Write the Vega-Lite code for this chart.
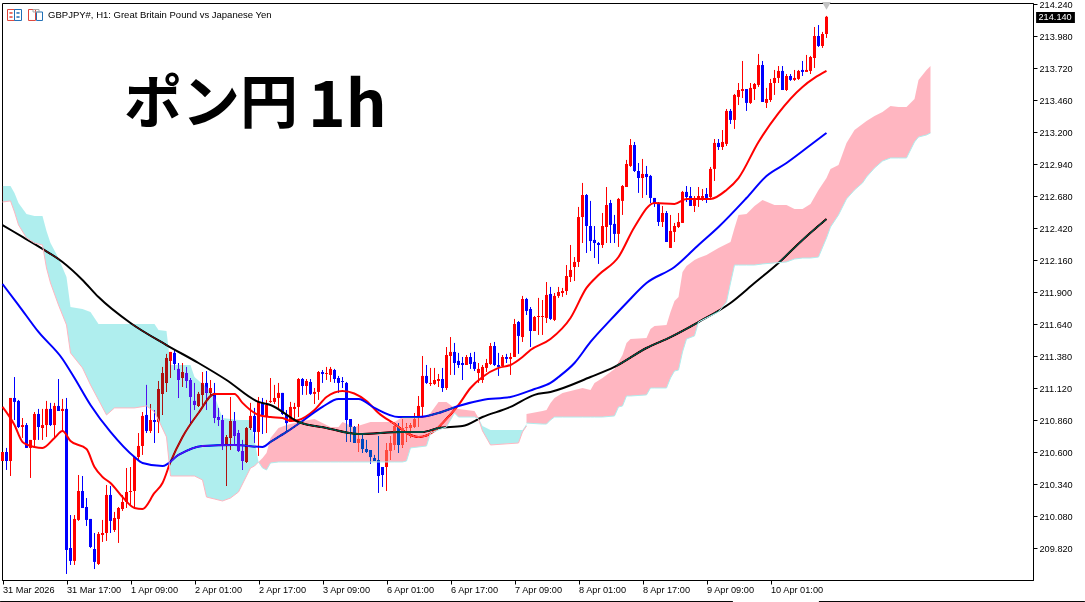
{
  "$schema": "https://vega.github.io/schema/vega-lite/v6.json",
  "width": 1031,
  "height": 577,
  "autosize": "none",
  "padding": {"left": 2, "top": 3, "right": 52, "bottom": 22},
  "background": "white",
  "datasets": {
    "candles": [
      {"i":0,"o":210.531,"h":210.604,"l":210.531,"c":210.604},{"i":1,"o":210.604,"h":210.637,"l":210.458,"c":210.531},{"i":2,"o":210.531,"h":211.043,"l":210.409,"c":211.043},{"i":3,"o":211.043,"h":211.213,"l":210.864,"c":211.011},
      {"i":4,"o":211.019,"h":211.027,"l":210.799,"c":210.807},{"i":5,"o":210.807,"h":210.880,"l":210.718,"c":210.823},{"i":6,"o":210.823,"h":210.839,"l":210.637,"c":210.637},{"i":7,"o":210.637,"h":210.702,"l":210.393,"c":210.702},
      {"i":8,"o":210.702,"h":210.929,"l":210.637,"c":210.913},{"i":9,"o":210.913,"h":210.954,"l":210.702,"c":210.807},{"i":10,"o":210.799,"h":210.954,"l":210.702,"c":210.823},{"i":11,"o":210.823,"h":211.019,"l":210.726,"c":210.954},
      {"i":12,"o":210.954,"h":211.003,"l":210.815,"c":210.823},{"i":13,"o":210.823,"h":211.003,"l":210.718,"c":210.978},{"i":14,"o":210.978,"h":211.197,"l":210.937,"c":210.937},{"i":15,"o":210.937,"h":211.035,"l":210.775,"c":210.954},
      {"i":16,"o":210.954,"h":211.043,"l":209.613,"c":209.808},{"i":17,"o":209.824,"h":210.092,"l":209.686,"c":209.719},{"i":18,"o":209.719,"h":210.092,"l":209.686,"c":210.060},{"i":19,"o":210.052,"h":210.417,"l":210.044,"c":210.287},
      {"i":20,"o":210.287,"h":210.409,"l":210.149,"c":210.149},{"i":21,"o":210.157,"h":210.230,"l":210.003,"c":210.052},{"i":22,"o":210.060,"h":210.060,"l":209.824,"c":209.832},{"i":23,"o":209.816,"h":209.946,"l":209.653,"c":209.711},
      {"i":24,"o":209.694,"h":209.954,"l":209.686,"c":209.938},{"i":25,"o":209.930,"h":210.052,"l":209.873,"c":209.946},{"i":26,"o":209.946,"h":210.336,"l":209.881,"c":210.255},{"i":27,"o":210.255,"h":210.328,"l":209.946,"c":210.044},
      {"i":28,"o":209.970,"h":210.117,"l":209.954,"c":210.068},{"i":29,"o":210.060,"h":210.157,"l":209.865,"c":210.149},{"i":30,"o":210.141,"h":210.255,"l":210.125,"c":210.198},{"i":31,"o":210.198,"h":210.474,"l":210.149,"c":210.279},
      {"i":32,"o":210.279,"h":210.482,"l":210.173,"c":210.287},{"i":33,"o":210.287,"h":210.563,"l":210.157,"c":210.563},{"i":34,"o":210.563,"h":210.758,"l":210.539,"c":210.653},{"i":35,"o":210.653,"h":210.929,"l":210.580,"c":210.897},
      {"i":36,"o":210.905,"h":211.149,"l":210.758,"c":210.775},{"i":37,"o":210.775,"h":210.994,"l":210.758,"c":210.864},{"i":38,"o":210.864,"h":210.945,"l":210.677,"c":210.848},{"i":39,"o":210.848,"h":211.181,"l":210.758,"c":211.116},
      {"i":40,"o":211.076,"h":211.295,"l":210.905,"c":211.246},{"i":41,"o":211.165,"h":211.401,"l":211.092,"c":211.368},{"i":42,"o":211.344,"h":211.417,"l":211.205,"c":211.417},{"i":43,"o":211.409,"h":211.433,"l":211.270,"c":211.319},
      {"i":44,"o":211.279,"h":211.327,"l":211.043,"c":211.189},{"i":45,"o":211.205,"h":211.327,"l":211.132,"c":211.254},{"i":46,"o":211.246,"h":211.295,"l":211.124,"c":211.181},{"i":47,"o":211.189,"h":211.205,"l":210.839,"c":211.051},
      {"i":48,"o":211.019,"h":211.165,"l":210.945,"c":210.986},{"i":49,"o":210.978,"h":211.092,"l":210.970,"c":211.076},{"i":50,"o":211.068,"h":211.254,"l":210.970,"c":211.165},{"i":51,"o":211.165,"h":211.262,"l":210.945,"c":211.084},
      {"i":52,"o":211.084,"h":211.189,"l":211.068,"c":211.124},{"i":53,"o":211.084,"h":211.165,"l":210.839,"c":210.880},{"i":54,"o":210.888,"h":210.962,"l":210.815,"c":210.864},{"i":55,"o":210.864,"h":210.905,"l":210.620,"c":210.661},
      {"i":56,"o":210.661,"h":210.742,"l":210.328,"c":210.726},{"i":57,"o":210.718,"h":211.051,"l":210.620,"c":210.856},{"i":58,"o":210.856,"h":210.929,"l":210.661,"c":210.734},{"i":59,"o":210.758,"h":210.783,"l":210.604,"c":210.612},
      {"i":60,"o":210.612,"h":210.702,"l":210.458,"c":210.531},{"i":61,"o":210.523,"h":210.807,"l":210.515,"c":210.799},{"i":62,"o":210.799,"h":211.003,"l":210.783,"c":210.897},{"i":63,"o":210.897,"h":210.962,"l":210.677,"c":210.767},
      {"i":64,"o":210.767,"h":211.051,"l":210.572,"c":211.011},{"i":65,"o":211.003,"h":211.043,"l":210.750,"c":210.905},{"i":66,"o":210.888,"h":211.027,"l":210.758,"c":210.986},{"i":67,"o":211.011,"h":211.205,"l":211.003,"c":211.019},
      {"i":68,"o":211.011,"h":211.149,"l":210.994,"c":211.043},{"i":69,"o":211.043,"h":211.165,"l":210.962,"c":211.084},{"i":70,"o":211.084,"h":211.084,"l":210.905,"c":210.913},{"i":71,"o":210.905,"h":210.945,"l":210.758,"c":210.839},
      {"i":72,"o":210.848,"h":211.011,"l":210.848,"c":210.970},{"i":73,"o":210.954,"h":211.003,"l":210.864,"c":210.970},{"i":74,"o":210.970,"h":211.205,"l":210.888,"c":211.197},{"i":75,"o":211.197,"h":211.205,"l":211.068,"c":211.140},
      {"i":76,"o":211.140,"h":211.197,"l":211.068,"c":211.181},{"i":77,"o":211.173,"h":211.197,"l":211.068,"c":211.076},{"i":78,"o":211.076,"h":211.124,"l":210.994,"c":211.092},{"i":79,"o":211.092,"h":211.262,"l":211.027,"c":211.254},
      {"i":80,"o":211.254,"h":211.270,"l":211.165,"c":211.238},{"i":81,"o":211.238,"h":211.295,"l":211.189,"c":211.246},{"i":82,"o":211.230,"h":211.295,"l":211.173,"c":211.279},{"i":83,"o":211.270,"h":211.279,"l":211.165,"c":211.197},
      {"i":84,"o":211.205,"h":211.222,"l":211.084,"c":211.165},{"i":85,"o":211.181,"h":211.213,"l":211.124,"c":211.173},{"i":86,"o":211.165,"h":211.173,"l":210.686,"c":210.864},{"i":87,"o":210.872,"h":210.872,"l":210.686,"c":210.807},
      {"i":88,"o":210.807,"h":210.815,"l":210.677,"c":210.677},{"i":89,"o":210.677,"h":210.832,"l":210.604,"c":210.710},{"i":90,"o":210.710,"h":210.742,"l":210.596,"c":210.628},{"i":91,"o":210.628,"h":210.702,"l":210.596,"c":210.604},
      {"i":92,"o":210.620,"h":210.620,"l":210.507,"c":210.563},{"i":93,"o":210.555,"h":210.580,"l":210.531,"c":210.531},{"i":94,"o":210.539,"h":210.734,"l":210.271,"c":210.409},{"i":95,"o":210.482,"h":210.482,"l":210.320,"c":210.417},
      {"i":96,"o":210.482,"h":210.677,"l":210.287,"c":210.620},{"i":97,"o":210.612,"h":210.734,"l":210.539,"c":210.677},{"i":98,"o":210.661,"h":210.848,"l":210.620,"c":210.815},{"i":99,"o":210.807,"h":210.839,"l":210.596,"c":210.661},
      {"i":100,"o":210.661,"h":210.872,"l":210.637,"c":210.799},{"i":101,"o":210.799,"h":210.839,"l":210.686,"c":210.807},{"i":102,"o":210.799,"h":210.839,"l":210.718,"c":210.823},{"i":103,"o":210.807,"h":210.921,"l":210.799,"c":210.872},
      {"i":104,"o":210.888,"h":211.059,"l":210.807,"c":210.978},{"i":105,"o":210.970,"h":211.384,"l":210.888,"c":211.222},{"i":106,"o":211.222,"h":211.311,"l":211.157,"c":211.165},{"i":107,"o":211.157,"h":211.287,"l":211.140,"c":211.165},
      {"i":108,"o":211.157,"h":211.287,"l":211.149,"c":211.189},{"i":109,"o":211.181,"h":211.238,"l":211.132,"c":211.197},{"i":110,"o":211.197,"h":211.287,"l":211.092,"c":211.124},{"i":111,"o":211.124,"h":211.457,"l":211.108,"c":211.392},
      {"i":112,"o":211.384,"h":211.538,"l":211.230,"c":211.417},{"i":113,"o":211.417,"h":211.490,"l":211.230,"c":211.327},{"i":114,"o":211.344,"h":211.409,"l":211.287,"c":211.311},{"i":115,"o":211.327,"h":211.376,"l":211.189,"c":211.311},
      {"i":116,"o":211.311,"h":211.392,"l":211.311,"c":211.376},{"i":117,"o":211.376,"h":211.409,"l":211.279,"c":211.319},{"i":118,"o":211.336,"h":211.417,"l":211.262,"c":211.279},{"i":119,"o":211.246,"h":211.327,"l":211.165,"c":211.279},
      {"i":120,"o":211.189,"h":211.311,"l":211.165,"c":211.295},{"i":121,"o":211.287,"h":211.360,"l":211.254,"c":211.327},{"i":122,"o":211.319,"h":211.490,"l":211.311,"c":211.465},{"i":123,"o":211.465,"h":211.498,"l":211.303,"c":211.311},
      {"i":124,"o":211.311,"h":211.409,"l":211.222,"c":211.295},{"i":125,"o":211.303,"h":211.392,"l":211.295,"c":211.376},{"i":126,"o":211.376,"h":211.401,"l":211.327,"c":211.360},{"i":127,"o":211.360,"h":211.409,"l":211.230,"c":211.376},
      {"i":128,"o":211.376,"h":211.685,"l":211.376,"c":211.644},{"i":129,"o":211.660,"h":211.668,"l":211.401,"c":211.547},{"i":130,"o":211.538,"h":211.872,"l":211.498,"c":211.847},{"i":131,"o":211.847,"h":211.856,"l":211.717,"c":211.750},
      {"i":132,"o":211.766,"h":211.782,"l":211.457,"c":211.587},{"i":133,"o":211.587,"h":211.709,"l":211.587,"c":211.701},{"i":134,"o":211.701,"h":211.856,"l":211.555,"c":211.709},{"i":135,"o":211.701,"h":211.839,"l":211.555,"c":211.709},
      {"i":136,"o":211.693,"h":211.985,"l":211.652,"c":211.880},{"i":137,"o":211.888,"h":211.945,"l":211.677,"c":211.685},{"i":138,"o":211.677,"h":211.896,"l":211.668,"c":211.872},{"i":139,"o":211.872,"h":211.945,"l":211.856,"c":211.904},
      {"i":140,"o":211.896,"h":211.937,"l":211.864,"c":211.912},{"i":141,"o":211.912,"h":212.123,"l":211.880,"c":212.034},{"i":142,"o":212.026,"h":212.286,"l":211.985,"c":212.083},{"i":143,"o":212.107,"h":212.188,"l":211.993,"c":212.148},
      {"i":144,"o":212.148,"h":212.595,"l":212.107,"c":212.513},{"i":145,"o":212.513,"h":212.790,"l":212.302,"c":212.692},{"i":146,"o":212.692,"h":212.700,"l":212.221,"c":212.440},{"i":147,"o":212.440,"h":212.644,"l":212.237,"c":212.318},
      {"i":148,"o":212.327,"h":212.440,"l":212.180,"c":212.302},{"i":149,"o":212.302,"h":212.310,"l":212.132,"c":212.286},{"i":150,"o":212.286,"h":212.546,"l":212.262,"c":212.440},{"i":151,"o":212.432,"h":212.757,"l":212.302,"c":212.611},
      {"i":152,"o":212.627,"h":212.652,"l":212.302,"c":212.449},{"i":153,"o":212.457,"h":212.530,"l":212.302,"c":212.376},{"i":154,"o":212.376,"h":212.668,"l":212.270,"c":212.660},{"i":155,"o":212.644,"h":212.773,"l":212.530,"c":212.765},
      {"i":156,"o":212.757,"h":212.977,"l":212.757,"c":212.944},{"i":157,"o":212.928,"h":213.147,"l":212.920,"c":213.098},{"i":158,"o":213.098,"h":213.123,"l":212.879,"c":212.887},{"i":159,"o":212.887,"h":212.952,"l":212.709,"c":212.830},
      {"i":160,"o":212.830,"h":212.985,"l":212.668,"c":212.863},{"i":161,"o":212.863,"h":212.928,"l":212.692,"c":212.838},{"i":162,"o":212.847,"h":212.855,"l":212.627,"c":212.668},{"i":163,"o":212.668,"h":212.668,"l":212.595,"c":212.627},
      {"i":164,"o":212.627,"h":212.635,"l":212.440,"c":212.473},{"i":165,"o":212.473,"h":212.603,"l":212.432,"c":212.546},{"i":166,"o":212.546,"h":212.562,"l":212.310,"c":212.310},{"i":167,"o":212.262,"h":212.530,"l":212.262,"c":212.400},
      {"i":168,"o":212.392,"h":212.465,"l":212.310,"c":212.440},{"i":169,"o":212.432,"h":212.546,"l":212.424,"c":212.473},{"i":170,"o":212.465,"h":212.725,"l":212.465,"c":212.717},{"i":171,"o":212.717,"h":212.765,"l":212.635,"c":212.676},
      {"i":172,"o":212.684,"h":212.757,"l":212.603,"c":212.603},{"i":173,"o":212.603,"h":212.684,"l":212.554,"c":212.668},{"i":174,"o":212.652,"h":212.757,"l":212.595,"c":212.684},{"i":175,"o":212.668,"h":212.741,"l":212.644,"c":212.684},
      {"i":176,"o":212.700,"h":212.749,"l":212.627,"c":212.668},{"i":177,"o":212.676,"h":212.920,"l":212.668,"c":212.904},{"i":178,"o":212.904,"h":213.147,"l":212.806,"c":213.115},{"i":179,"o":213.115,"h":213.147,"l":213.058,"c":213.082},
      {"i":180,"o":213.082,"h":213.220,"l":213.058,"c":213.123},{"i":181,"o":213.107,"h":213.391,"l":213.090,"c":213.375},{"i":182,"o":213.375,"h":213.391,"l":213.269,"c":213.302},{"i":183,"o":213.302,"h":213.513,"l":213.229,"c":213.505},
      {"i":184,"o":213.489,"h":213.602,"l":213.423,"c":213.545},{"i":185,"o":213.537,"h":213.781,"l":213.480,"c":213.553},{"i":186,"o":213.553,"h":213.553,"l":213.375,"c":213.440},{"i":187,"o":213.440,"h":213.602,"l":213.432,"c":213.562},
      {"i":188,"o":213.553,"h":213.602,"l":213.464,"c":213.594},{"i":189,"o":213.586,"h":213.838,"l":213.570,"c":213.748},{"i":190,"o":213.748,"h":213.781,"l":213.448,"c":213.448},{"i":191,"o":213.440,"h":213.562,"l":213.399,"c":213.472},
      {"i":192,"o":213.464,"h":213.635,"l":213.448,"c":213.602},{"i":193,"o":213.602,"h":213.708,"l":213.505,"c":213.643},{"i":194,"o":213.643,"h":213.740,"l":213.602,"c":213.700},{"i":195,"o":213.700,"h":213.740,"l":213.545,"c":213.545},
      {"i":196,"o":213.545,"h":213.675,"l":213.537,"c":213.659},{"i":197,"o":213.659,"h":213.675,"l":213.619,"c":213.627},{"i":198,"o":213.627,"h":213.708,"l":213.619,"c":213.643},{"i":199,"o":213.635,"h":213.708,"l":213.627,"c":213.700},
      {"i":200,"o":213.708,"h":213.781,"l":213.659,"c":213.692},{"i":201,"o":213.692,"h":213.830,"l":213.692,"c":213.708},{"i":202,"o":213.700,"h":213.822,"l":213.675,"c":213.813},{"i":203,"o":213.805,"h":214.057,"l":213.724,"c":213.984},
      {"i":204,"o":213.984,"h":214.073,"l":213.895,"c":213.903},{"i":205,"o":213.903,"h":214.017,"l":213.887,"c":214.000},{"i":206,"o":214.000,"h":214.147,"l":213.968,"c":214.140}
    ],
    "averages": [
      {"ma":"fast","i":0,"p":210.970},{"ma":"fast","i":3,"p":210.823},{"ma":"fast","i":5,"p":210.686},{"ma":"fast","i":8,"p":210.645},{"ma":"fast","i":10,"p":210.637},{"ma":"fast","i":13,"p":210.718},{"ma":"fast","i":15,"p":210.775},{"ma":"fast","i":17,"p":210.694},{"ma":"fast","i":21,"p":210.628},{"ma":"fast","i":23,"p":210.482},{"ma":"fast","i":25,"p":210.401},{"ma":"fast","i":27,"p":210.352},{"ma":"fast","i":30,"p":210.238},{"ma":"fast","i":33,"p":210.149},{"ma":"fast","i":35,"p":210.141},{"ma":"fast","i":38,"p":210.271},{"ma":"fast","i":40,"p":210.352},{"ma":"fast","i":42,"p":210.523},{"ma":"fast","i":45,"p":210.726},{"ma":"fast","i":49,"p":210.921},{"ma":"fast","i":53,"p":211.076},{"ma":"fast","i":58,"p":211.076},{"ma":"fast","i":60,"p":211.003},{"ma":"fast","i":64,"p":210.905},{"ma":"fast","i":67,"p":210.888},{"ma":"fast","i":70,"p":210.880},{"ma":"fast","i":72,"p":210.856},{"ma":"fast","i":74,"p":210.864},{"ma":"fast","i":78,"p":210.945},{"ma":"fast","i":81,"p":211.051},{"ma":"fast","i":85,"p":211.100},{"ma":"fast","i":91,"p":211.019},{"ma":"fast","i":94,"p":210.921},{"ma":"fast","i":98,"p":210.832},{"ma":"fast","i":102,"p":210.742},{"ma":"fast","i":104,"p":210.726},{"ma":"fast","i":108,"p":210.775},{"ma":"fast","i":110,"p":210.839},{"ma":"fast","i":114,"p":210.986},{"ma":"fast","i":117,"p":211.124},{"ma":"fast","i":120,"p":211.213},{"ma":"fast","i":124,"p":211.287},{"ma":"fast","i":127,"p":211.311},{"ma":"fast","i":130,"p":211.376},{"ma":"fast","i":132,"p":211.433},{"ma":"fast","i":137,"p":211.522},{"ma":"fast","i":142,"p":211.693},{"ma":"fast","i":146,"p":211.937},{"ma":"fast","i":149,"p":212.042},{"ma":"fast","i":154,"p":212.188},{"ma":"fast","i":158,"p":212.432},{"ma":"fast","i":163,"p":212.627},{"ma":"fast","i":168,"p":212.619},{"ma":"fast","i":171,"p":212.660},{"ma":"fast","i":177,"p":212.660},{"ma":"fast","i":181,"p":212.733},{"ma":"fast","i":184,"p":212.830},{"ma":"fast","i":189,"p":213.123},{"ma":"fast","i":194,"p":213.358},{"ma":"fast","i":200,"p":213.570},{"ma":"fast","i":203,"p":213.643},{"ma":"fast","i":206,"p":213.700},
      {"ma":"mid","i":0,"p":211.969},{"ma":"mid","i":4,"p":211.798},{"ma":"mid","i":9,"p":211.579},{"ma":"mid","i":15,"p":211.360},{"ma":"mid","i":18,"p":211.205},{"ma":"mid","i":22,"p":210.986},{"ma":"mid","i":27,"p":210.767},{"ma":"mid","i":33,"p":210.563},{"ma":"mid","i":35,"p":210.515},{"ma":"mid","i":40,"p":210.490},{"ma":"mid","i":44,"p":210.580},{"ma":"mid","i":50,"p":210.653},{"ma":"mid","i":58,"p":210.661},{"ma":"mid","i":65,"p":210.645},{"ma":"mid","i":67,"p":210.686},{"ma":"mid","i":71,"p":210.767},{"ma":"mid","i":75,"p":210.856},{"ma":"mid","i":80,"p":210.970},{"ma":"mid","i":84,"p":211.035},{"ma":"mid","i":89,"p":211.035},{"ma":"mid","i":93,"p":210.962},{"ma":"mid","i":99,"p":210.888},{"ma":"mid","i":104,"p":210.888},{"ma":"mid","i":109,"p":210.921},{"ma":"mid","i":114,"p":210.978},{"ma":"mid","i":120,"p":211.027},{"ma":"mid","i":127,"p":211.051},{"ma":"mid","i":133,"p":211.116},{"ma":"mid","i":137,"p":211.165},{"ma":"mid","i":139,"p":211.213},{"ma":"mid","i":143,"p":211.327},{"ma":"mid","i":147,"p":211.498},{"ma":"mid","i":152,"p":211.677},{"ma":"mid","i":156,"p":211.815},{"ma":"mid","i":161,"p":211.977},{"ma":"mid","i":168,"p":212.107},{"ma":"mid","i":174,"p":212.286},{"ma":"mid","i":179,"p":212.432},{"ma":"mid","i":186,"p":212.668},{"ma":"mid","i":191,"p":212.847},{"ma":"mid","i":196,"p":212.952},{"ma":"mid","i":202,"p":213.098},{"ma":"mid","i":206,"p":213.196},
      {"ma":"slow","i":0,"p":212.448},{"ma":"slow","i":5,"p":212.351},{"ma":"slow","i":10,"p":212.254},{"ma":"slow","i":15,"p":212.148},{"ma":"slow","i":20,"p":212.002},{"ma":"slow","i":24,"p":211.863},{"ma":"slow","i":32,"p":211.652},{"ma":"slow","i":41,"p":211.473},{"ma":"slow","i":49,"p":211.327},{"ma":"slow","i":56,"p":211.189},{"ma":"slow","i":64,"p":211.011},{"ma":"slow","i":67,"p":210.986},{"ma":"slow","i":74,"p":210.848},{"ma":"slow","i":81,"p":210.799},{"ma":"slow","i":89,"p":210.750},{"ma":"slow","i":100,"p":210.767},{"ma":"slow","i":105,"p":210.767},{"ma":"slow","i":109,"p":210.799},{"ma":"slow","i":115,"p":210.815},{"ma":"slow","i":120,"p":210.888},{"ma":"slow","i":127,"p":210.970},{"ma":"slow","i":133,"p":211.068},{"ma":"slow","i":137,"p":211.092},{"ma":"slow","i":147,"p":211.213},{"ma":"slow","i":153,"p":211.295},{"ma":"slow","i":161,"p":211.449},{"ma":"slow","i":167,"p":211.538},{"ma":"slow","i":174,"p":211.660},{"ma":"slow","i":182,"p":211.815},{"ma":"slow","i":188,"p":211.977},{"ma":"slow","i":194,"p":212.140},{"ma":"slow","i":200,"p":212.327},{"ma":"slow","i":206,"p":212.497}
    ],
    "cloud": [
      {"seg":"A","kind":"bear","i":0,"hi":212.765,"lo":212.635},{"seg":"A","kind":"bear","i":2,"hi":212.765,"lo":212.644},{"seg":"A","kind":"bear","i":3,"hi":212.709,"lo":212.554},{"seg":"A","kind":"bear","i":4,"hi":212.627,"lo":212.449},{"seg":"A","kind":"bear","i":6,"hi":212.538,"lo":212.343},{"seg":"A","kind":"bear","i":8,"hi":212.522,"lo":212.302},{"seg":"A","kind":"bear","i":10,"hi":212.522,"lo":212.286},{"seg":"A","kind":"bear","i":11,"hi":212.400,"lo":212.099},{"seg":"A","kind":"bear","i":12,"hi":212.302,"lo":211.977},{"seg":"A","kind":"bear","i":14,"hi":212.180,"lo":211.798},{"seg":"A","kind":"bear","i":16,"hi":212.026,"lo":211.636},{"seg":"A","kind":"bear","i":17,"hi":211.782,"lo":211.409},{"seg":"A","kind":"bear","i":20,"hi":211.766,"lo":211.287},{"seg":"A","kind":"bear","i":22,"hi":211.742,"lo":211.149},{"seg":"A","kind":"bear","i":24,"hi":211.644,"lo":211.027},{"seg":"A","kind":"bear","i":26,"hi":211.644,"lo":210.905},{"seg":"A","kind":"bear","i":28,"hi":211.644,"lo":210.962},{"seg":"A","kind":"bear","i":33,"hi":211.644,"lo":210.962},{"seg":"A","kind":"bear","i":36,"hi":211.644,"lo":210.978},{"seg":"A","kind":"bear","i":38,"hi":211.644,"lo":210.929},{"seg":"A","kind":"bear","i":39,"hi":211.595,"lo":210.864},{"seg":"A","kind":"bear","i":41,"hi":211.587,"lo":210.726},{"seg":"A","kind":"bear","i":42,"hi":211.311,"lo":210.409},{"seg":"A","kind":"bear","i":47,"hi":211.311,"lo":210.409},{"seg":"A","kind":"bear","i":48,"hi":211.213,"lo":210.409},{"seg":"A","kind":"bear","i":50,"hi":211.157,"lo":210.377},{"seg":"A","kind":"bear","i":51,"hi":211.132,"lo":210.238},{"seg":"A","kind":"bear","i":53,"hi":211.059,"lo":210.222},{"seg":"A","kind":"bear","i":55,"hi":210.880,"lo":210.206},{"seg":"A","kind":"bear","i":57,"hi":210.872,"lo":210.230},{"seg":"A","kind":"bear","i":59,"hi":210.864,"lo":210.279},{"seg":"A","kind":"bear","i":61,"hi":210.864,"lo":210.409},{"seg":"A","kind":"bear","i":62,"hi":210.864,"lo":210.474},{"seg":"A","kind":"bear","i":63,"hi":210.702,"lo":210.490},{"seg":"A","kind":"bear","i":64,"hi":210.523,"lo":210.523},
      {"seg":"B","kind":"bull","i":64,"hi":210.523,"lo":210.523},{"seg":"B","kind":"bull","i":65,"hi":210.555,"lo":210.474},{"seg":"B","kind":"bull","i":66,"hi":210.596,"lo":210.458},{"seg":"B","kind":"bull","i":67,"hi":210.718,"lo":210.515},{"seg":"B","kind":"bull","i":69,"hi":210.799,"lo":210.523},{"seg":"B","kind":"bull","i":71,"hi":210.823,"lo":210.523},{"seg":"B","kind":"bull","i":75,"hi":210.856,"lo":210.523},{"seg":"B","kind":"bull","i":78,"hi":210.872,"lo":210.523},{"seg":"B","kind":"bull","i":82,"hi":210.807,"lo":210.523},{"seg":"B","kind":"bull","i":84,"hi":210.807,"lo":210.523},{"seg":"B","kind":"bull","i":85,"hi":210.848,"lo":210.523},{"seg":"B","kind":"bull","i":88,"hi":210.807,"lo":210.523},{"seg":"B","kind":"bull","i":92,"hi":210.848,"lo":210.523},{"seg":"B","kind":"bull","i":98,"hi":210.848,"lo":210.523},{"seg":"B","kind":"bull","i":100,"hi":210.888,"lo":210.523},{"seg":"B","kind":"bull","i":101,"hi":210.888,"lo":210.531},{"seg":"B","kind":"bull","i":102,"hi":210.888,"lo":210.637},{"seg":"B","kind":"bull","i":106,"hi":210.888,"lo":210.653},{"seg":"B","kind":"bull","i":107,"hi":210.921,"lo":210.758},{"seg":"B","kind":"bull","i":109,"hi":211.011,"lo":210.783},{"seg":"B","kind":"bull","i":111,"hi":211.011,"lo":210.807},{"seg":"B","kind":"bull","i":113,"hi":210.962,"lo":210.921},{"seg":"B","kind":"bull","i":114,"hi":210.954,"lo":210.888},{"seg":"B","kind":"bull","i":118,"hi":210.937,"lo":210.888},{"seg":"B","kind":"bull","i":119,"hi":210.880,"lo":210.872},
      {"seg":"C","kind":"bear","i":119,"hi":210.880,"lo":210.872},{"seg":"C","kind":"bear","i":120,"hi":210.815,"lo":210.775},{"seg":"C","kind":"bear","i":122,"hi":210.783,"lo":210.661},{"seg":"C","kind":"bear","i":129,"hi":210.783,"lo":210.677},{"seg":"C","kind":"bear","i":130,"hi":210.783,"lo":210.767},{"seg":"C","kind":"bear","i":131,"hi":210.832,"lo":210.815},
      {"seg":"D","kind":"bull","i":131,"hi":210.913,"lo":210.839},{"seg":"D","kind":"bull","i":135,"hi":210.937,"lo":210.831},{"seg":"D","kind":"bull","i":136,"hi":210.945,"lo":210.831},{"seg":"D","kind":"bull","i":137,"hi":211.003,"lo":210.864},{"seg":"D","kind":"bull","i":138,"hi":211.043,"lo":210.888},{"seg":"D","kind":"bull","i":140,"hi":211.084,"lo":210.888},{"seg":"D","kind":"bull","i":145,"hi":211.124,"lo":210.888},{"seg":"D","kind":"bull","i":147,"hi":211.108,"lo":210.888},{"seg":"D","kind":"bull","i":148,"hi":211.165,"lo":210.888},{"seg":"D","kind":"bull","i":150,"hi":211.205,"lo":210.888},{"seg":"D","kind":"bull","i":153,"hi":211.279,"lo":210.897},{"seg":"D","kind":"bull","i":154,"hi":211.336,"lo":210.970},{"seg":"D","kind":"bull","i":155,"hi":211.392,"lo":210.978},{"seg":"D","kind":"bull","i":156,"hi":211.490,"lo":211.059},{"seg":"D","kind":"bull","i":157,"hi":211.522,"lo":211.059},{"seg":"D","kind":"bull","i":161,"hi":211.530,"lo":211.068},{"seg":"D","kind":"bull","i":162,"hi":211.603,"lo":211.124},{"seg":"D","kind":"bull","i":163,"hi":211.628,"lo":211.124},{"seg":"D","kind":"bull","i":166,"hi":211.636,"lo":211.124},{"seg":"D","kind":"bull","i":167,"hi":211.742,"lo":211.205},{"seg":"D","kind":"bull","i":168,"hi":211.831,"lo":211.262},{"seg":"D","kind":"bull","i":169,"hi":211.863,"lo":211.270},{"seg":"D","kind":"bull","i":170,"hi":212.067,"lo":211.417},{"seg":"D","kind":"bull","i":171,"hi":212.115,"lo":211.522},{"seg":"D","kind":"bull","i":173,"hi":212.164,"lo":211.547},{"seg":"D","kind":"bull","i":174,"hi":212.180,"lo":211.660},{"seg":"D","kind":"bull","i":176,"hi":212.205,"lo":211.693},{"seg":"D","kind":"bull","i":179,"hi":212.262,"lo":211.742},{"seg":"D","kind":"bull","i":181,"hi":212.294,"lo":211.823},{"seg":"D","kind":"bull","i":182,"hi":212.310,"lo":211.977},{"seg":"D","kind":"bull","i":183,"hi":212.424,"lo":212.123},{"seg":"D","kind":"bull","i":184,"hi":212.530,"lo":212.123},{"seg":"D","kind":"bull","i":186,"hi":212.538,"lo":212.123},{"seg":"D","kind":"bull","i":188,"hi":212.603,"lo":212.123},{"seg":"D","kind":"bull","i":190,"hi":212.652,"lo":212.132},{"seg":"D","kind":"bull","i":193,"hi":212.611,"lo":212.140},{"seg":"D","kind":"bull","i":196,"hi":212.611,"lo":212.148},{"seg":"D","kind":"bull","i":198,"hi":212.578,"lo":212.172},{"seg":"D","kind":"bull","i":200,"hi":212.578,"lo":212.180},{"seg":"D","kind":"bull","i":202,"hi":212.619,"lo":212.180},{"seg":"D","kind":"bull","i":204,"hi":212.733,"lo":212.188},{"seg":"D","kind":"bull","i":206,"hi":212.830,"lo":212.343},{"seg":"D","kind":"bull","i":207,"hi":212.903,"lo":212.432},{"seg":"D","kind":"bull","i":209,"hi":212.936,"lo":212.530},{"seg":"D","kind":"bull","i":211,"hi":213.115,"lo":212.660},{"seg":"D","kind":"bull","i":213,"hi":213.220,"lo":212.733},{"seg":"D","kind":"bull","i":215,"hi":213.269,"lo":212.790},{"seg":"D","kind":"bull","i":216,"hi":213.293,"lo":212.838},{"seg":"D","kind":"bull","i":218,"hi":213.334,"lo":212.911},{"seg":"D","kind":"bull","i":220,"hi":213.367,"lo":212.968},{"seg":"D","kind":"bull","i":222,"hi":213.415,"lo":212.993},{"seg":"D","kind":"bull","i":224,"hi":213.407,"lo":212.993},{"seg":"D","kind":"bull","i":226,"hi":213.407,"lo":212.993},{"seg":"D","kind":"bull","i":228,"hi":213.472,"lo":213.123},{"seg":"D","kind":"bull","i":229,"hi":213.627,"lo":213.163},{"seg":"D","kind":"bull","i":231,"hi":213.708,"lo":213.180},{"seg":"D","kind":"bull","i":232,"hi":213.740,"lo":213.196}
    ],
    "icons": [
      {"part":"red","i":1.25,"i2":3,"hi":214.199,"lo":214.110},{"part":"blue","i":3,"i2":4.75,"hi":214.199,"lo":214.110},
      {"part":"red","i":1.75,"i2":2.5,"hi":214.171,"lo":214.171},{"part":"red","i":1.75,"i2":2.5,"hi":214.138,"lo":214.138},
      {"part":"blue","i":3.5,"i2":4.25,"hi":214.171,"lo":214.171},{"part":"blue","i":3.5,"i2":4.25,"hi":214.138,"lo":214.138},
      {"part":"red","i":6.5,"i2":8.25,"hi":214.199,"lo":214.110},{"part":"blue","i":8.5,"i2":10,"hi":214.179,"lo":214.110},
      {"part":"gray","i":7.63,"i2":9.13,"hi":214.199,"lo":214.179}
    ]
  },
  "layer": [
    {
      "data": {"name": "candles"},
      "mark": {"type": "rule", "strokeWidth": 1},
      "encoding": {
        "x": {
          "field": "i", "type": "quantitative",
          "scale": {"domain": [-0.125, 257.625], "nice": false, "zero": false},
          "axis": {
            "title": null, "grid": false, "values": [0,16,32,48,64,80,96,112,128,144,160,176,192],
            "labelExpr": "['31 Mar 2026','31 Mar 17:00','1 Apr 09:00','2 Apr 01:00','2 Apr 17:00','3 Apr 09:00','6 Apr 01:00','6 Apr 17:00','7 Apr 09:00','8 Apr 01:00','8 Apr 17:00','9 Apr 09:00','10 Apr 01:00'][datum.value / 16]",
            "labelAlign": "left", "labelFlush": false,
            "labelFont": "Liberation Sans", "labelFontSize": 9.2, "labelColor": "#000", "labelPadding": 1,
            "tickColor": "#000", "tickSize": 4, "domainColor": "#000"
          }
        },
        "y": {
          "field": "h", "type": "quantitative",
          "scale": {"domain": [209.564, 214.252], "nice": false, "zero": false},
          "axis": {
            "title": null, "orient": "right", "grid": false, "format": ".3f", "tickCount": 18,
            "values": [209.82,210.08,210.34,210.6,210.86,211.12,211.38,211.64,211.9,212.16,212.42,212.68,212.94,213.2,213.46,213.72,213.98,214.24],
            "labelFont": "Liberation Sans", "labelFontSize": 9.2, "labelColor": "#000", "labelPadding": 2,
            "tickColor": "#000", "tickSize": 4, "domainColor": "#000"
          }
        },
        "y2": {"field": "l"},
        "color": {"condition": {"test": "datum.c >= datum.o", "value": "#ff0000"}, "value": "#0000ff"}
      }
    },
    {
      "data": {"name": "candles"},
      "mark": {"type": "rule", "strokeWidth": 3},
      "encoding": {
        "x": {"field": "i", "type": "quantitative"},
        "y": {"field": "o", "type": "quantitative"},
        "y2": {"field": "c"},
        "color": {"condition": {"test": "datum.c >= datum.o", "value": "#ff0000"}, "value": "#0000ff"}
      }
    },
    {
      "data": {"name": "averages"},
      "mark": {"type": "line", "strokeWidth": 2, "interpolate": "monotone"},
      "encoding": {
        "x": {"field": "i", "type": "quantitative"},
        "y": {"field": "p", "type": "quantitative"},
        "color": {"field": "ma", "type": "nominal", "legend": null, "scale": {"domain": ["fast","mid","slow"], "range": ["#ff0000","#0000ff","#000000"]}}
      }
    },
    {
      "data": {"name": "cloud"},
      "mark": {"type": "area", "orient": "vertical", "blend": "difference"},
      "encoding": {
        "x": {"field": "i", "type": "quantitative"},
        "y": {"field": "hi", "type": "quantitative", "stack": null},
        "y2": {"field": "lo"},
        "detail": {"field": "seg"},
        "color": {"field": "kind", "type": "nominal", "legend": null, "scale": {"domain": ["bear","bull"], "range": ["#501111","#00493e"]}}
      }
    },
    {
      "data": {"name": "cloud"},
      "mark": {"type": "line", "strokeWidth": 1},
      "encoding": {
        "x": {"field": "i", "type": "quantitative"},
        "y": {"field": "lo", "type": "quantitative"},
        "detail": {"field": "seg"},
        "color": {"field": "kind", "type": "nominal", "legend": null, "scale": {"domain": ["bear","bull"], "range": ["#ffb6c1","#afeeee"]}}
      }
    },
    {
      "data": {"values": [{"i": 206, "p": 214.228}]},
      "mark": {"type": "point", "shape": "triangle-down", "filled": true, "size": 80, "color": "#c4c4c4", "opacity": 1},
      "encoding": {
        "x": {"field": "i", "type": "quantitative"},
        "y": {"field": "p", "type": "quantitative"}
      }
    },
    {
      "data": {"name": "icons"},
      "mark": {"type": "rect", "fillOpacity": 0, "strokeWidth": 1},
      "encoding": {
        "x": {"field": "i", "type": "quantitative"},
        "x2": {"field": "i2"},
        "y": {"field": "hi", "type": "quantitative"},
        "y2": {"field": "lo"},
        "stroke": {"field": "part", "type": "nominal", "legend": null, "scale": {"domain": ["red","blue","gray"], "range": ["#e0453a","#1f6fb5","#a8a8a8"]}}
      }
    },
    {
      "data": {"values": [{"i": 11.4, "p": 214.155, "label": "GBPJPY#, H1:  Great Britain Pound vs Japanese Yen"}]},
      "mark": {"type": "text", "align": "left", "baseline": "middle", "font": "Liberation Sans", "fontSize": 9.5, "color": "#000"},
      "encoding": {
        "x": {"field": "i", "type": "quantitative"},
        "y": {"field": "p", "type": "quantitative"},
        "text": {"field": "label"}
      }
    },
    {
      "data": {"values": [{"i": 30.4, "p": 213.273, "label": "ポン円"}]},
      "mark": {"type": "text", "align": "left", "baseline": "alphabetic", "font": "Noto Sans CJK JP", "fontWeight": "bold", "fontSize": 58, "color": "#000"},
      "encoding": {
        "x": {"field": "i", "type": "quantitative"},
        "y": {"field": "p", "type": "quantitative"},
        "text": {"field": "label"}
      }
    },
    {
      "data": {"values": [{"i": 76.4, "p": 213.245, "label": "1h"}]},
      "mark": {"type": "text", "align": "left", "baseline": "alphabetic", "font": "Noto Sans CJK JP", "fontWeight": "bold", "fontSize": 64, "color": "#000"},
      "encoding": {
        "x": {"field": "i", "type": "quantitative"},
        "y": {"field": "p", "type": "quantitative"},
        "text": {"field": "label"}
      }
    },
    {
      "data": {"values": [{"i": 258.4, "i2": 268.1, "hi": 214.179, "lo": 214.090}]},
      "mark": {"type": "rect", "color": "#000"},
      "encoding": {
        "x": {"field": "i", "type": "quantitative"},
        "x2": {"field": "i2"},
        "y": {"field": "hi", "type": "quantitative"},
        "y2": {"field": "lo"}
      }
    },
    {
      "data": {"values": [{"i": 259.0, "p": 214.140, "label": "214.140"}]},
      "mark": {"type": "text", "align": "left", "baseline": "middle", "font": "Liberation Sans", "fontSize": 9.2, "color": "#fff"},
      "encoding": {
        "x": {"field": "i", "type": "quantitative"},
        "y": {"field": "p", "type": "quantitative"},
        "text": {"field": "label"}
      }
    },
    {
      "data": {"values": [{"i": -0.6, "i2": 182.6, "p": 209.389}, {"i": 204.1, "i2": 270.6, "p": 209.389}]},
      "mark": {"type": "rule", "strokeWidth": 1, "color": "#000"},
      "encoding": {
        "x": {"field": "i", "type": "quantitative"},
        "x2": {"field": "i2"},
        "y": {"field": "p", "type": "quantitative"}
      }
    }
  ],
  "resolve": {"scale": {"color": "independent", "stroke": "independent"}},
  "config": {
    "view": {"stroke": "#000", "fill": "white"},
    "axis": {"labelOverlap": false}
  }
}
